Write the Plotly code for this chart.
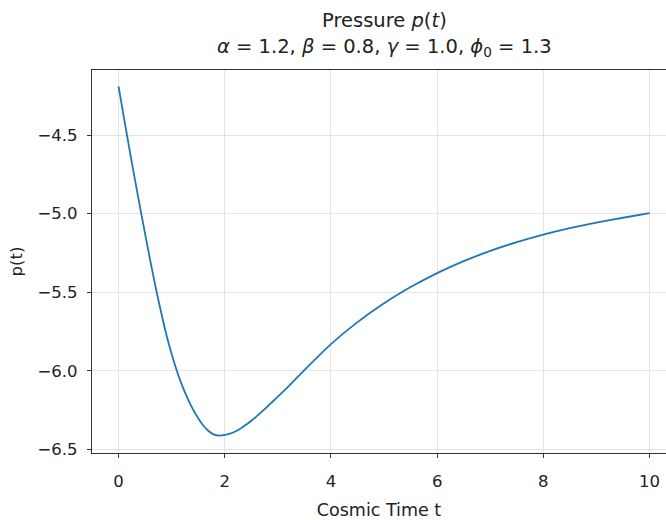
import plotly.graph_objects as go

t_vals = [0.0, 0.1, 0.2, 0.3, 0.4, 0.5, 0.6, 0.7, 0.8, 0.9, 1.0, 1.1, 1.2, 1.3, 1.4, 1.5, 1.6, 1.7, 1.8, 1.9, 2.0,
          2.1, 2.2, 2.3, 2.4, 2.5, 2.6, 2.7, 2.8, 2.9, 3.0, 3.2, 3.5, 4.0, 4.5, 5.0, 5.5, 6.0, 6.5, 7.0, 7.5, 8.0, 8.5, 9.0, 9.5, 10.0]
p_vals = [-4.190, -4.388, -4.580, -4.768, -4.950, -5.129, -5.303, -5.470, -5.625, -5.768, -5.893, -6.002, -6.095, -6.174, -6.243, -6.301, -6.349, -6.384, -6.405, -6.411, -6.407,
          -6.399, -6.385, -6.366, -6.343, -6.317, -6.289, -6.259, -6.228, -6.196, -6.164, -6.098, -5.995, -5.830, -5.690, -5.570, -5.467, -5.378, -5.302, -5.237, -5.181, -5.133, -5.092, -5.057, -5.026, -4.996]

x_ticks = [0, 2, 4, 6, 8, 10]
y_ticks = [-6.5, -6.0, -5.5, -5.0, -4.5]
y_tick_labels = ["−6.5", "−6.0", "−5.5", "−5.0", "−4.5"]

title_line1 = "Pressure <i>p</i>(<i>t</i>)"
title_line2 = "<i>α</i> = 1.2, <i>β</i> = 0.8, <i>γ</i> = 1.0, <i>ϕ</i><sub>0</sub> = 1.3"

fig = go.Figure()
fig.add_trace(go.Scatter(x=t_vals, y=p_vals, mode="lines",
                         line=dict(color="#1f77b4", width=1.8, shape="spline", smoothing=0.6),
                         showlegend=False))

plot_top, plot_h = 70, 383
title_cx = (384.5 - 92) / 574
for txt, ypx in [(title_line1, 20), (title_line2, 48)]:
    fig.add_annotation(text=txt, xref="paper", yref="paper", x=title_cx,
                       y=1 + (plot_top - ypx) / plot_h, xanchor="center", yanchor="middle",
                       showarrow=False, font=dict(size=19.5, color="#222"))

fig.update_layout(
    width=666, height=520,
    margin=dict(l=92, r=0, t=70, b=67),
    paper_bgcolor="white", plot_bgcolor="white",
    font=dict(family="DejaVu Sans", size=16, color="#222"),
)
fig.update_xaxes(range=[-0.5, 10.31], tickvals=x_ticks, ticks="outside", ticklen=4,
                 tickcolor="#333", showline=True, linecolor="#333", linewidth=1.3, mirror=True,
                 showgrid=True, gridcolor="#e4e4e4", gridwidth=1, zeroline=False,
                 ticklabelstandoff=9, tickfont=dict(size=16.5),
                 title=dict(text="Cosmic Time t", standoff=14, font=dict(size=17.5)))
fig.update_yaxes(range=[-6.522, -4.0865], tickvals=y_ticks, ticktext=y_tick_labels,
                 ticks="outside", ticklen=4, tickcolor="#333", showline=True, linecolor="#333",
                 linewidth=1.3, mirror=False, showgrid=True, gridcolor="#e4e4e4", gridwidth=1,
                 zeroline=False, ticklabelstandoff=6, tickfont=dict(size=16.5),
                 title=dict(text="p(t)", standoff=10, font=dict(size=16.5)))

fig.write_html("out.html")
